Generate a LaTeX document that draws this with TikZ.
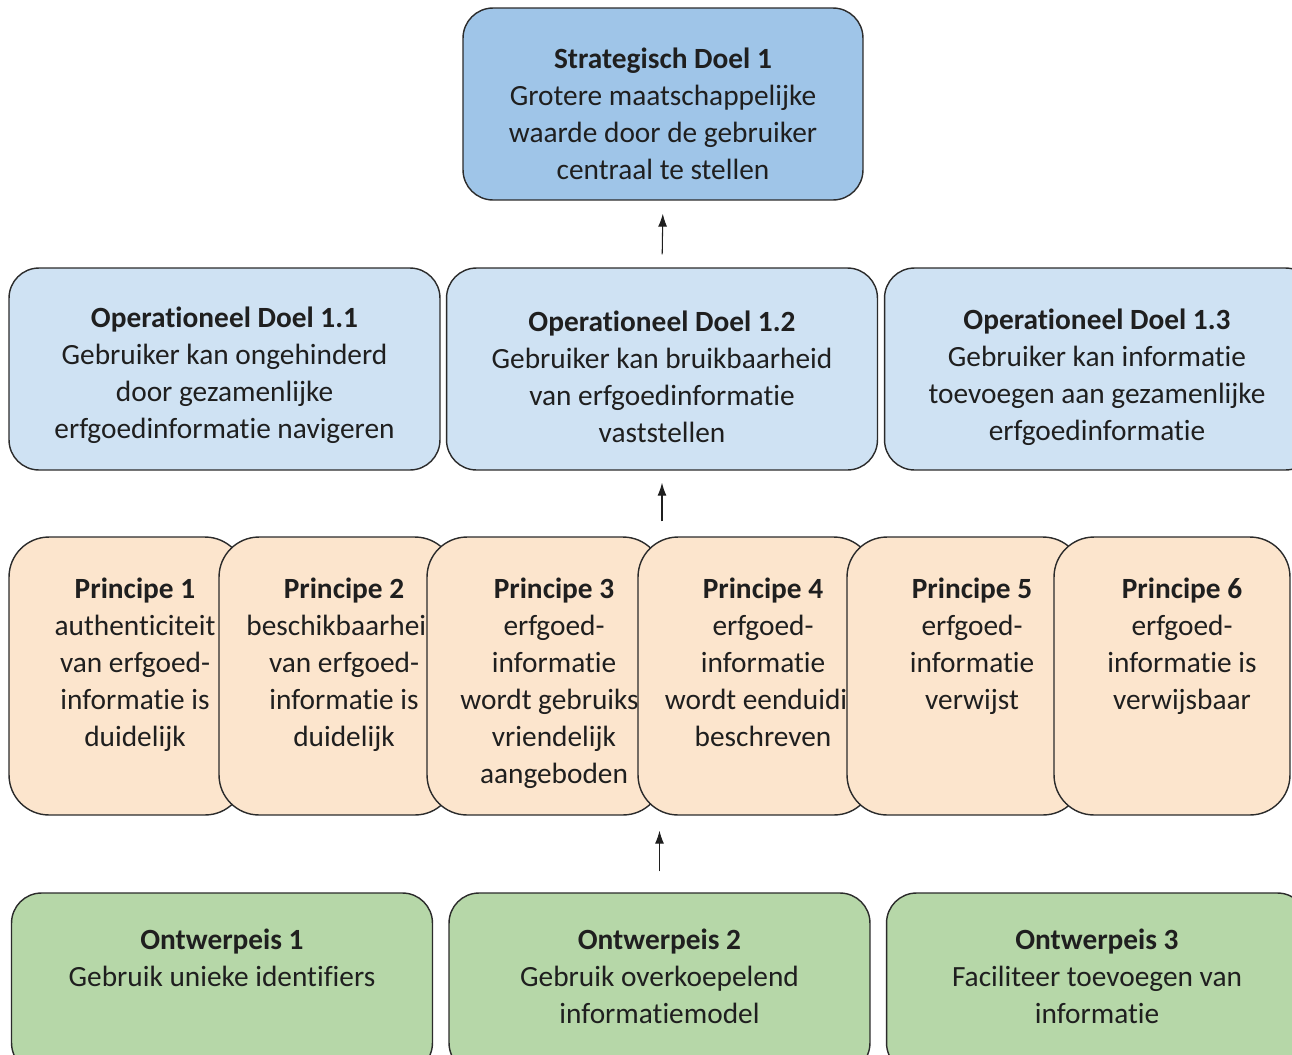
\documentclass[tikz,border=0pt]{standalone}
\usepackage{fontspec}
\setmainfont{Carlito}[Ligatures=NoCommon]
\usepackage{tikz}
\usetikzlibrary{arrows.meta}
\usetikzlibrary{calc}

\definecolor{stratblue}{HTML}{9FC5E8}
\definecolor{opblue}{HTML}{CFE2F3}
\definecolor{princorange}{HTML}{FCE5CD}
\definecolor{eisgreen}{HTML}{B6D7A8}
\definecolor{edge}{HTML}{2B2B2B}
\definecolor{ink}{HTML}{1F1F1F}

\tikzset{
    box/.style={draw=edge, line width=0.8pt, rounded corners=0.6cm, inner sep=0pt},
    boxtext/.style={align=center, text=ink, inner sep=0pt, font=\fontsize{16.7}{21}\selectfont},
    stratbox/.style={box, fill=stratblue, minimum width=8cm, minimum height=3.84cm},
    opbox/.style={box, fill=opblue, minimum width=8.62cm, minimum height=4.04cm},
    princbox/.style={box, fill=princorange, rounded corners=0.8cm, minimum width=4.72cm, minimum height=5.56cm},
    eisbox/.style={box, fill=eisgreen, minimum width=8.42cm, minimum height=3.6cm},
    arr/.style={-{Latex[length=2.6mm, width=1.8mm]}, line width=0.6pt, draw=ink}
}

\begin{document}
\begin{tikzpicture}[x=0.02cm, y=-0.02cm]
    \useasboundingbox (0, 0) rectangle (1292, 1055);
    \clip (0, 0) rectangle (1292, 1055);

    % strategisch doel
    \node[stratbox] (strat) at (663, 104) {};
    \node[boxtext] (strattxt) at (663, 114) {\textbf{Strategisch Doel 1}\\Grotere maatschappelijke\\waarde door de gebruiker\\centraal te stellen};

    % operationele doelen
    \node[opbox] (op11) at (224.5, 369) {};
    \node[boxtext] (op11txt) at (224.5, 375) {\textbf{Operationeel Doel 1.1}\\Gebruiker kan ongehinderd\\door gezamenlijke\\erfgoedinformatie navigeren};
    \node[opbox] (op12) at (662, 369) {};
    \node[boxtext] (op12txt) at (662, 377) {\textbf{Operationeel Doel 1.2}\\Gebruiker kan bruikbaarheid\\van erfgoedinformatie\\vaststellen};
    \node[opbox] (op13) at (1100, 369) {};
    \node[boxtext] (op13txt) at (1097, 377) {\textbf{Operationeel Doel 1.3}\\Gebruiker kan informatie\\toevoegen aan gezamenlijke\\erfgoedinformatie};

    % principes
    \node[princbox] (p1) at (127, 676) {};
    \node[boxtext, anchor=north] (p1txt) at (135, 578) {\textbf{Principe 1}\\authenticiteit\\van erfgoed-\\informatie is\\duidelijk};
    \node[princbox] (p2) at (337, 676) {};
    \node[boxtext, anchor=north] (p2txt) at (344, 578) {\textbf{Principe 2}\\beschikbaarheid\\van erfgoed-\\informatie is\\duidelijk};
    \node[princbox] (p3) at (545, 676) {};
    \node[boxtext, anchor=north] (p3txt) at (554, 578) {\textbf{Principe 3}\\erfgoed-\\informatie\\wordt gebruiks-\\vriendelijk\\aangeboden};
    \node[princbox] (p4) at (756, 676) {};
    \node[boxtext, anchor=north] (p4txt) at (763, 578) {\textbf{Principe 4}\\erfgoed-\\informatie\\wordt eenduidig\\beschreven};
    \node[princbox] (p5) at (965, 676) {};
    \node[boxtext, anchor=north] (p5txt) at (972, 578) {\textbf{Principe 5}\\erfgoed-\\informatie\\verwijst};
    \node[princbox] (p6) at (1172, 676) {};
    \node[boxtext, anchor=north] (p6txt) at (1182, 578) {\textbf{Principe 6}\\erfgoed-\\informatie is\\verwijsbaar};

    % ontwerpeisen
    \node[eisbox] (o1) at (222, 983) {};
    \node[boxtext, anchor=north] (o1txt) at (222, 929) {\textbf{Ontwerpeis 1}\\Gebruik unieke identifiers};
    \node[eisbox] (o2) at (659.5, 983) {};
    \node[boxtext, anchor=north] (o2txt) at (659.5, 929) {\textbf{Ontwerpeis 2}\\Gebruik overkoepelend\\informatiemodel};
    \node[eisbox] (o3) at (1097, 983) {};
    \node[boxtext, anchor=north] (o3txt) at (1097, 929) {\textbf{Ontwerpeis 3}\\Faciliteer toevoegen van\\informatie};

    \draw[arr, shorten <=0.26cm, shorten >=0.26cm] (op12.north) -- (strat.south);
    \draw[arr, shorten <=0.3cm, shorten >=0.24cm] (op12 |- p3.north) -- (op12.south);
    \draw[arr, shorten <=0.42cm, shorten >=0.3cm] (o2.north) -- (o2 |- p4.south);
\end{tikzpicture}
\end{document}
